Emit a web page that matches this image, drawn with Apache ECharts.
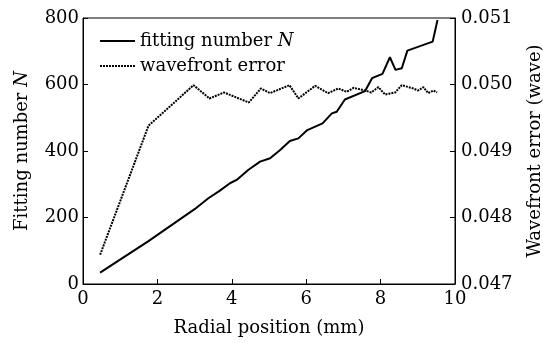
<!DOCTYPE html>
<html>
<head>
<meta charset="utf-8">
<script src="https://cdn.jsdelivr.net/npm/echarts@6/dist/echarts.min.js"></script>
<style>
  html, body { margin: 0; padding: 0; background: #fff; }
  #main { width: 543px; height: 343px; }
</style>
</head>
<body>
<div id="main"></div>
<script>
// radial position (mm) vs fitting number N
var fitX = [0.46, 1.75, 3.0, 3.37, 3.68, 3.95, 4.13, 4.44, 4.76, 5.03, 5.3, 5.56, 5.79, 6.03, 6.44, 6.69, 6.82, 7.04, 7.58, 7.77, 8.05, 8.25, 8.4, 8.57, 8.72, 9.4, 9.53];
var fitN = [34, 128, 225, 258, 281, 303, 313, 343, 368, 378, 403, 430, 438, 463, 483, 513, 518, 555, 580, 619, 632, 682, 644, 649, 702, 729, 794];

// radial position (mm) vs wavefront error (wave)
var errX = [0.46, 1.76, 2.97, 3.4, 3.79, 4.46, 4.78, 5.03, 5.55, 5.79, 6.24, 6.59, 6.86, 7.09, 7.27, 7.58, 7.75, 7.94, 8.12, 8.39, 8.57, 8.88, 9.01, 9.15, 9.28, 9.42, 9.52];
var errV = [0.04744, 0.04938, 0.04999, 0.04979, 0.04988, 0.04973, 0.04994, 0.04987, 0.04999, 0.04979, 0.04998, 0.04987, 0.04994, 0.04989, 0.04995, 0.04991, 0.04988, 0.04996, 0.04985, 0.04988, 0.04999, 0.04994, 0.04991, 0.04996, 0.04987, 0.04991, 0.04988];

var leftTicks = [0, 800, 200];
var rightTicks = [0.047, 0.051, 0.001];
var bottomTicks = [0, 10, 2];

function pairs(xs, ys) {
  var out = [];
  for (var i = 0; i < xs.length; i++) {
    out.push([xs[i], ys[i]]);
  }
  return out;
}

var font = 'DejaVu Serif';
var rich = { i: { fontFamily: font, fontStyle: 'italic', fontSize: 18, color: '#000' } };

var myChart = echarts.init(document.getElementById('main'));
var option = {
  animation: false,
  textStyle: { fontFamily: font, color: '#000' },
  grid: {
    left: 83, right: 88, top: 18, bottom: 59,
    outerBoundsMode: 'none', containLabel: false,
    show: true, borderColor: '#000', borderWidth: 1
  },
  legend: {
    left: 94, top: 27,
    orient: 'vertical',
    itemWidth: 35, itemHeight: 14, itemGap: 7,
    itemStyle: { opacity: 0 },
    textStyle: { fontFamily: font, fontSize: 18, color: '#000', rich: rich },
    formatter: function (name) {
      return name === 'fitting number N' ? 'fitting number {i|N}' : name;
    },
    data: ['fitting number N', 'wavefront error']
  },
  xAxis: {
    type: 'value',
    min: bottomTicks[0], max: bottomTicks[1], interval: bottomTicks[2],
    name: 'Radial position (mm)',
    nameLocation: 'middle', nameGap: 35,
    nameTextStyle: { fontFamily: font, fontSize: 18, color: '#000' },
    axisLine: { onZero: false, lineStyle: { color: '#000', width: 1 } },
    axisTick: { inside: true, length: 5, lineStyle: { color: '#000' } },
    axisLabel: { fontFamily: font, fontSize: 18, color: '#000', margin: 6 },
    splitLine: { show: false }
  },
  yAxis: [
    {
      type: 'value', position: 'left',
      min: leftTicks[0], max: leftTicks[1], interval: leftTicks[2],
      name: 'Fitting number {i|N}',
      nameLocation: 'middle', nameGap: 52,
      nameTextStyle: { fontFamily: font, fontSize: 18, color: '#000', rich: rich },
      axisLine: { show: true, lineStyle: { color: '#000', width: 1 } },
      axisTick: { show: true, inside: true, length: 5, lineStyle: { color: '#000' } },
      axisLabel: { fontFamily: font, fontSize: 18, color: '#000', margin: 4 },
      splitLine: { show: false }
    },
    {
      type: 'value', position: 'right',
      min: rightTicks[0], max: rightTicks[1], interval: rightTicks[2],
      name: 'Wavefront error (wave)',
      nameLocation: 'middle', nameGap: 71, nameRotate: 90,
      nameTextStyle: { fontFamily: font, fontSize: 18, color: '#000' },
      axisLine: { show: true, lineStyle: { color: '#000', width: 1 } },
      axisTick: { show: true, inside: true, length: 5, lineStyle: { color: '#000' } },
      axisLabel: {
        fontFamily: font, fontSize: 18, color: '#000', margin: 6,
        formatter: function (v) { return v.toFixed(3); }
      },
      splitLine: { show: false }
    }
  ],
  series: [
    {
      name: 'fitting number N',
      type: 'line',
      yAxisIndex: 0,
      symbol: 'none',
      data: pairs(fitX, fitN),
      lineStyle: { color: '#000', width: 2 },
      itemStyle: { color: '#000' }
    },
    {
      name: 'wavefront error',
      type: 'line',
      yAxisIndex: 1,
      symbol: 'none',
      data: pairs(errX, errV),
      lineStyle: { color: '#000', width: 2, type: [2, 1] },
      itemStyle: { color: '#000' }
    }
  ]
};
myChart.setOption(option);
</script>
</body>
</html>
